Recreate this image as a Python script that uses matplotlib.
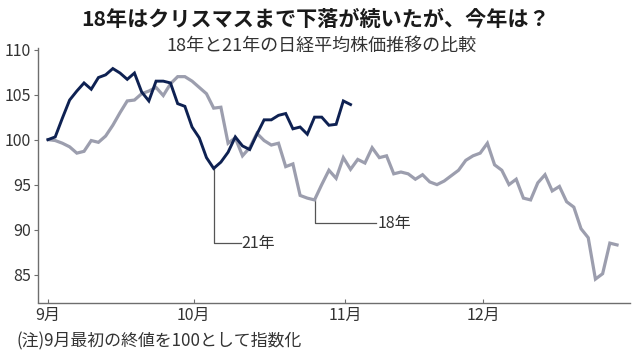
import matplotlib
matplotlib.use("Agg")
import matplotlib.pyplot as plt

# ---- data ----
nikkei_2021 = [100.0, 100.3, 102.4, 104.4, 105.4, 106.3, 105.6, 106.9, 107.2, 107.9,
               107.4, 106.7, 107.4, 105.3, 104.3, 106.5, 106.5, 106.3, 104.0, 103.7,
               101.4, 100.2, 98.0, 96.8, 97.5, 98.6, 100.3, 99.3, 98.9, 100.6,
               102.2, 102.2, 102.7, 102.9, 101.2, 101.4, 100.6, 102.5, 102.5, 101.6,
               101.7, 104.3, 103.9]
nikkei_2018 = [100.0, 99.9, 99.6, 99.2, 98.5, 98.7, 99.9, 99.7, 100.4, 101.6,
               103.0, 104.3, 104.4, 105.1, 105.4, 105.8, 104.9, 106.2, 107.0, 107.0,
               106.5, 105.8, 105.1, 103.5, 103.6, 99.6, 100.2, 98.2, 99.1, 100.7,
               99.9, 99.4, 99.6, 97.0, 97.3, 93.8, 93.5, 93.3, 95.0, 96.6,
               95.7, 98.0, 96.7, 97.8, 97.4, 99.1, 98.0, 98.2, 96.2, 96.4,
               96.2, 95.6, 96.1, 95.3, 95.0, 95.4, 96.0, 96.6, 97.7, 98.2,
               98.5, 99.6, 97.2, 96.6, 95.0, 95.6, 93.5, 93.3, 95.2, 96.1,
               94.3, 94.8, 93.1, 92.5, 90.1, 89.1, 84.5, 85.1, 88.5, 88.3]
month_pos = [0, 20.2, 41.3, 60.4]
month_labels = ["9月", "10月", "11月", "12月"]
y_ticks = [85, 90, 95, 100, 105, 110]

title = "18年はクリスマスまで下落が続いたが、今年は？"
subtitle = "18年と21年の日経平均株価推移の比較"
note = "(注)9月最初の終値を100として指数化"

NAVY = "#0e2152"
GRAY = "#9c9eae"
AX = "#6e6e6e"
TXT = "#333333"

num_font = ["Liberation Sans Narrow", "Noto Sans CJK JP", "DejaVu Sans"]
cjk_font = ["Noto Sans CJK JP", "DejaVu Sans"]
plt.rcParams["font.family"] = num_font

fig = plt.figure(figsize=(6.38, 3.57), dpi=100)
ax = fig.add_axes([38 / 638, 1 - 302.5 / 357, (630 - 38) / 638, (302.5 - 48.3) / 357])

x18 = list(range(len(nikkei_2018)))
x21 = list(range(len(nikkei_2021)))
ax.plot(x18, nikkei_2018, color=GRAY, lw=2.3, solid_joinstyle="miter", zorder=2)
ax.plot(x21, nikkei_2021, color=NAVY, lw=2.1, solid_joinstyle="miter", zorder=3)

ax.set_xlim(-1.39, 80.8)
ax.set_ylim(81.9, 110.15)
ax.set_yticks(y_ticks)
ax.set_yticklabels([str(v) for v in y_ticks])
ax.set_xticks(month_pos)
ax.set_xticklabels(month_labels)

for s in ["top", "right"]:
    ax.spines[s].set_visible(False)
for s in ["left", "bottom"]:
    ax.spines[s].set_color(AX)
    ax.spines[s].set_linewidth(1.0)

ax.tick_params(axis="y", direction="out", length=3, width=0.8, color=AX,
               labelsize=11.5, labelcolor=TXT, pad=2)
ax.tick_params(axis="x", direction="in", length=3, width=0.8, color=AX,
               labelsize=11.5, labelcolor=TXT, pad=3)

# leader lines and labels
i21 = nikkei_2021.index(min(nikkei_2021))
ax.plot([i21, i21, 26.8], [nikkei_2021[i21], 88.48, 88.48], color="#555555", lw=0.9, zorder=1)
ax.text(26.9, 88.48, "21年", fontsize=11.5, color=TXT, va="center", ha="left")
i18 = 37
ax.plot([i18, i18, 45.6], [nikkei_2018[i18], 90.7, 90.7], color="#555555", lw=0.9, zorder=1)
ax.text(45.7, 90.7, "18年", fontsize=11.5, color=TXT, va="center", ha="left")

fig.text(316 / 638, 1 - 19 / 357, title, family=cjk_font, fontsize=15.2,
         fontweight="bold", color="#1a1a1a", ha="center", va="center")
fig.text(321 / 638, 1 - 46 / 357, subtitle, family=cjk_font, fontsize=13,
         color=TXT, ha="center", va="center")
fig.text(16 / 638, 1 - 341 / 357, note, family=cjk_font, fontsize=12.2,
         color=TXT, ha="left", va="center")

fig.savefig("out.png", dpi=100, facecolor="white")
